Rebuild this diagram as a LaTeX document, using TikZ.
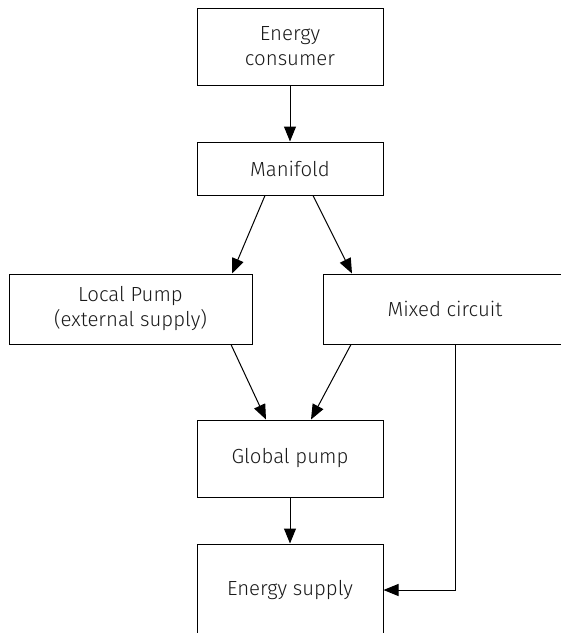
\documentclass[tikz,border=0pt]{standalone}
\usepackage{fontspec}
\setmainfont{Fira Sans}[UprightFont={* Light}]
\usetikzlibrary{arrows.meta,calc}
\begin{document}
\begin{tikzpicture}[x=0.5pt,y=-0.5pt,
  box/.style={draw=black, line width=0.5pt, inner sep=0pt, align=center,
    minimum width=93pt, text=black!90, font=\fontsize{10.2}{12.5}\selectfont},
  wbox/.style={box, minimum width=121.5pt, minimum height=35pt},
  arr/.style={draw=black, line width=0.5pt, -{Triangle[length=7.5pt,width=6pt]}}]
\useasboundingbox (0,0) rectangle (561,633);
\node[box, minimum height=38.5pt] (ec) at (290,46.5) {Energy\\consumer};
\node[box, minimum height=26.5pt] (man) at (290,168.5) {Manifold};
\node[wbox] (lp) at (130.5,309) {Local Pump\\(external supply)};
\node[wbox] (mc) at (445,309) {Mixed circuit};
\node[box, minimum height=38.5pt] (gp) at (290,458.5) {Global pump};
\node[box, minimum height=46pt] (es) at (290,590) {Energy supply};
\coordinate (corner) at ($(mc.south)+(10,0)$);
\draw[arr] (ec.south) -- (man.north);
\draw[arr] ($(man.south)+(-25,0)$) -- ($(lp.north)+(101.5,0)$);
\draw[arr] ($(man.south)+(23,0)$) -- ($(mc.north)+(-93,0)$);
\draw[arr] ($(lp.south)+(100.5,0)$) -- ($(gp.north)+(-24,0)$);
\draw[arr] ($(mc.south)+(-94,0)$) -- ($(gp.north)+(21,0)$);
\draw[arr] (gp.south) -- (es.north);
\draw[arr] (corner) |- (es.east);
\end{tikzpicture}
\end{document}
